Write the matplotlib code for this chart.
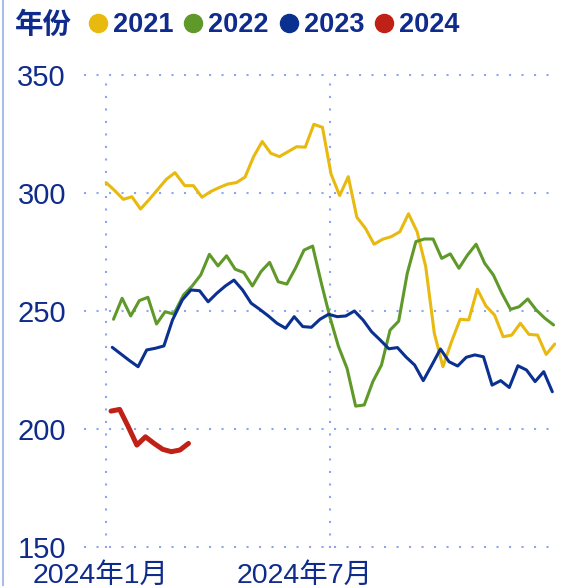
import matplotlib.pyplot as plt
from matplotlib.lines import Line2D
from matplotlib.transforms import ScaledTranslation
import pandas as pd

plt.rcParams['font.family'] = ['Liberation Sans', 'Noto Sans CJK SC']

# weekly (Friday) values, each year mapped onto the 2024 calendar
def weeks(year, n):
    d = pd.date_range(f'{year}-01-01', f'{year}-12-31', freq='W-FRI')
    return [t.replace(year=2024) for t in d][:n]

years = ['2021', '2022', '2023', '2024']
colors = ['#E8B90F', '#5F992A', '#0B3190', '#BF2116']

v2021 = [304.4, 301.0, 297.3, 298.4, 293.2, 297.2, 301.5, 305.8, 308.6, 303.1,
         303.1, 298.2, 300.6, 302.3, 303.8, 304.4, 306.7, 315.4, 321.8, 316.8,
         315.4, 317.5, 319.6, 319.4, 329.1, 327.8, 308.0, 298.9, 306.9, 289.7,
         285.0, 278.3, 280.4, 281.5, 283.6, 291.2, 283.6, 268.8, 240.6, 226.4,
         237.0, 246.5, 246.2, 259.2, 252.1, 248.3, 239.1, 239.8, 244.8, 240.1,
         239.8, 231.6, 236.0]
v2022 = [246.5, 255.4, 247.9, 254.4, 255.8, 244.5, 249.7, 248.7, 256.8, 260.6,
         265.3, 274.0, 269.1, 273.4, 267.7, 266.3, 260.6, 266.7, 270.6, 262.4,
         261.4, 268.1, 275.8, 277.5, 262.0, 247.5, 235.0, 225.7, 209.7, 210.2,
         220.1, 227.1, 241.9, 245.7, 266.0, 279.4, 280.5, 280.5, 272.3, 274.2,
         268.1, 273.7, 278.3, 270.2, 265.3, 257.5, 250.7, 251.8, 255.1, 250.4,
         246.9, 244.1]
v2023 = [234.6, 231.8, 229.0, 226.4, 233.5, 234.2, 235.2, 246.2, 254.7, 258.9,
         258.6, 253.9, 257.5, 260.6, 263.1, 258.9, 253.3, 250.7, 247.9, 244.8,
         242.7, 247.6, 243.4, 243.1, 246.5, 248.6, 247.6, 247.9, 250.0, 246.2,
         241.2, 237.7, 234.0, 234.5, 230.5, 227.1, 220.5, 227.1, 233.9, 228.5,
         226.7, 230.4, 231.4, 230.6, 218.6, 220.5, 217.6, 226.8, 225.0, 220.1,
         224.3, 215.8]
v2024 = [207.6, 208.3, 201.0, 193.2, 196.7, 193.9, 191.4, 190.4, 191.1, 193.9]

series = [v2021, v2022, v2023, v2024]
xtick_dates = ['2024-01-01', '2024-07-01']
xtick_labels = ['2024年1月', '2024年7月']
yticks = [150, 200, 250, 300, 350]

txt = '#0F2B8C'
gridc = '#8CA5F0'

fig = plt.figure(figsize=(5.66, 5.86), dpi=100)
ax = fig.add_axes([84/566, 1-548/586, (556-84)/566, (548-74)/586])

for yr, vals, c in zip(years, series, colors):
    lw = 3.6 if yr == '2024' else 2.2
    ax.plot(weeks(int(yr), len(vals)), vals, color=c, lw=lw,
            solid_capstyle='round', solid_joinstyle='round')

ax.set_ylim(149.6, 350.4)
ax.set_xlim(pd.Timestamp('2023-12-14'), pd.Timestamp('2025-01-01'))
ax.set_yticks(yticks)
ax.set_xticks(pd.to_datetime(xtick_dates))
ax.set_xticklabels(xtick_labels)
ax.grid(True, color=gridc, linestyle=(0, (1, 5)), linewidth=1.5)
ax.set_axisbelow(True)
for s in ax.spines.values():
    s.set_visible(False)
ax.tick_params(length=0, labelsize=21, colors=txt)
ax.tick_params(axis='y', pad=13)
ax.tick_params(axis='x', pad=10.5, labelsize=20.5)

# label offsets as in the reference
for lab, dx in zip(ax.get_xticklabels(), [-6, -25]):
    lab.set_transform(lab.get_transform() + ScaledTranslation(dx/100, 0, fig.dpi_scale_trans))

# legend
fig.text(15/566, 1-25/586, '年份', color=txt, fontsize=20.5, fontweight='bold',
         family=['Noto Sans CJK SC'], va='center', ha='left')
handles = [Line2D([], [], ls='', marker='o', markersize=13, color=c) for c in colors]
fig.legend(handles, years, loc='center left', bbox_to_anchor=(87/566, 1-25/586),
           ncol=4, frameon=False, handlelength=0.8, handletextpad=0.16,
           columnspacing=0.33, borderpad=0, borderaxespad=0, labelcolor=txt,
           prop={'family': ['Liberation Sans'], 'weight': 'bold', 'size': 19.5})

fig.add_artist(Line2D([3/566, 3/566], [0, 1], color='#A9BDEB', lw=1.5))

fig.savefig('out.png', dpi=100)
